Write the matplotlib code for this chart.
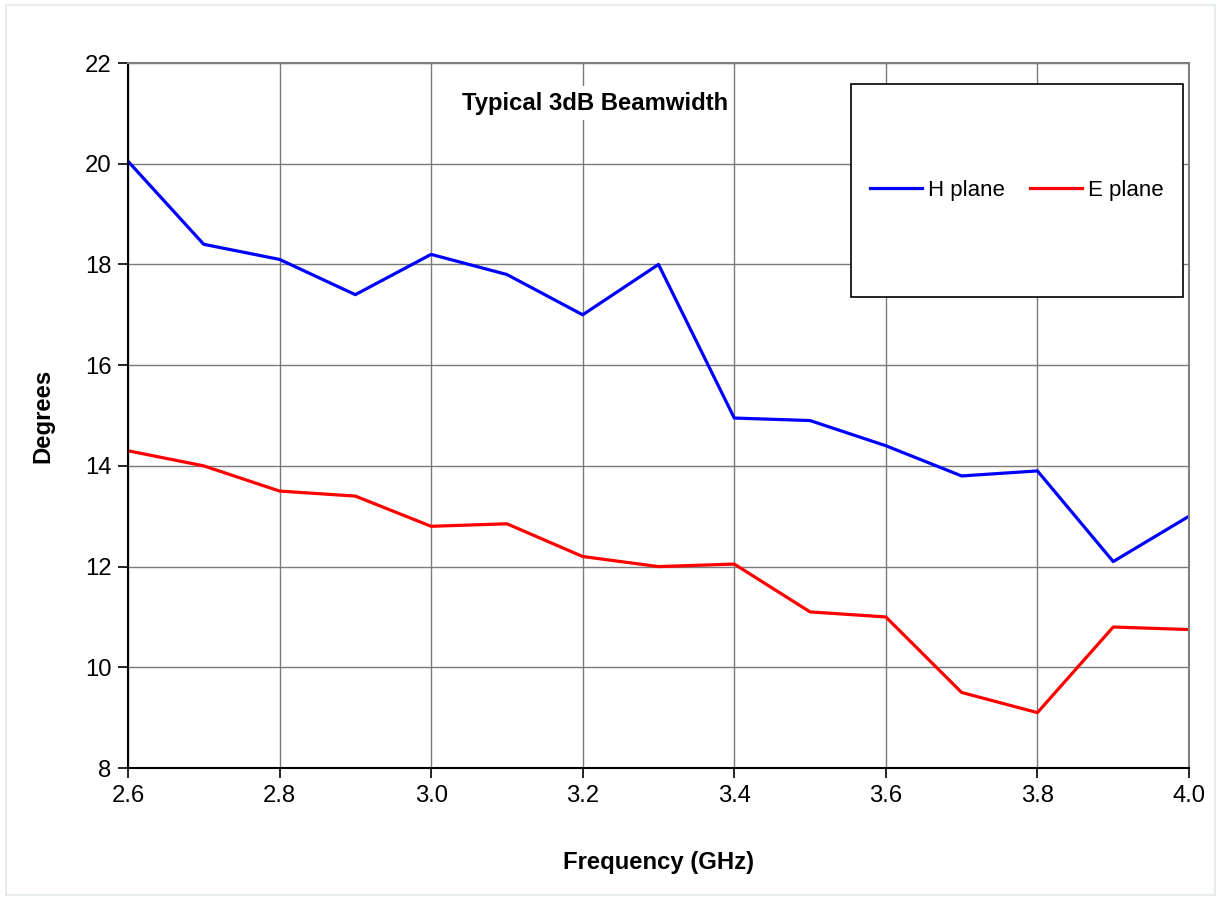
import matplotlib
matplotlib.use("Agg")
import matplotlib.pyplot as plt
from matplotlib.patches import Rectangle

# data
freq = [2.6, 2.7, 2.8, 2.9, 3.0, 3.1, 3.2, 3.3, 3.4, 3.5, 3.6, 3.7, 3.8, 3.9, 4.0]
h_plane = [20.05, 18.4, 18.1, 17.4, 18.2, 17.8, 17.0, 18.0, 14.95, 14.9, 14.4, 13.8, 13.9, 12.1, 13.0]
e_plane = [14.3, 14.0, 13.5, 13.4, 12.8, 12.85, 12.2, 12.0, 12.05, 11.1, 11.0, 9.5, 9.1, 10.8, 10.75]
x_ticks = [2.6, 2.8, 3.0, 3.2, 3.4, 3.6, 3.8, 4.0]
y_ticks = [8, 10, 12, 14, 16, 18, 20, 22]

plt.rcParams['font.family'] = ['Liberation Sans', 'DejaVu Sans']
FS = 17.2

fig = plt.figure(figsize=(12.21, 8.99), dpi=100)
ax = fig.add_axes([0.1048, 0.1457, 0.8690, 0.7842])

# light frame around the whole figure
fig.patches.append(Rectangle((0.005, 0.005), 0.99, 0.989, transform=fig.transFigure,
                             fill=False, edgecolor='#e6ece6', linewidth=1.5))

ax.plot(freq, h_plane, color='#0000ff', linewidth=2.3, label='H plane')
ax.plot(freq, e_plane, color='#ff0000', linewidth=2.3, label='E plane')

ax.set_xlim(2.6, 4.0)
ax.set_ylim(8, 22)
ax.set_xticks(x_ticks)
ax.set_xticklabels([f'{v:.1f}' for v in x_ticks])
ax.set_yticks(y_ticks)
ax.grid(True, color='#7a7a7a', linewidth=1.0)
ax.set_axisbelow(True)

ax.tick_params(axis='both', labelsize=FS, direction='out', length=7, width=1.2,
               color='#000000', pad=5)
for side in ['left', 'bottom']:
    ax.spines[side].set_color('black')
    ax.spines[side].set_linewidth(1.5)
for side in ['right', 'top']:
    ax.spines[side].set_color('#808080')
    ax.spines[side].set_linewidth(1.5)

ax.set_xlabel('Frequency (GHz)', fontsize=FS, fontweight='bold', labelpad=32)
ax.set_ylabel('Degrees', fontsize=FS, fontweight='bold', labelpad=22)

ax.text(0.44, 0.943, 'Typical 3dB Beamwidth', transform=ax.transAxes, fontsize=FS,
        fontweight='bold', ha='center', va='center',
        bbox=dict(facecolor='white', edgecolor='none', pad=4))

# legend box (fixed size, as in the reference)
box = (0.681, 0.668, 0.313, 0.302)
ax.add_patch(Rectangle(box[:2], box[2], box[3], transform=ax.transAxes,
                       facecolor='white', edgecolor='black', linewidth=1.2, zorder=4))
leg = ax.legend(loc='center', bbox_to_anchor=box, ncol=2,
                fontsize=16, frameon=False, handlelength=2.35,
                handletextpad=0.25, columnspacing=1.15, borderaxespad=0)
leg.set_zorder(5)

fig.savefig('out.png', dpi=100)
